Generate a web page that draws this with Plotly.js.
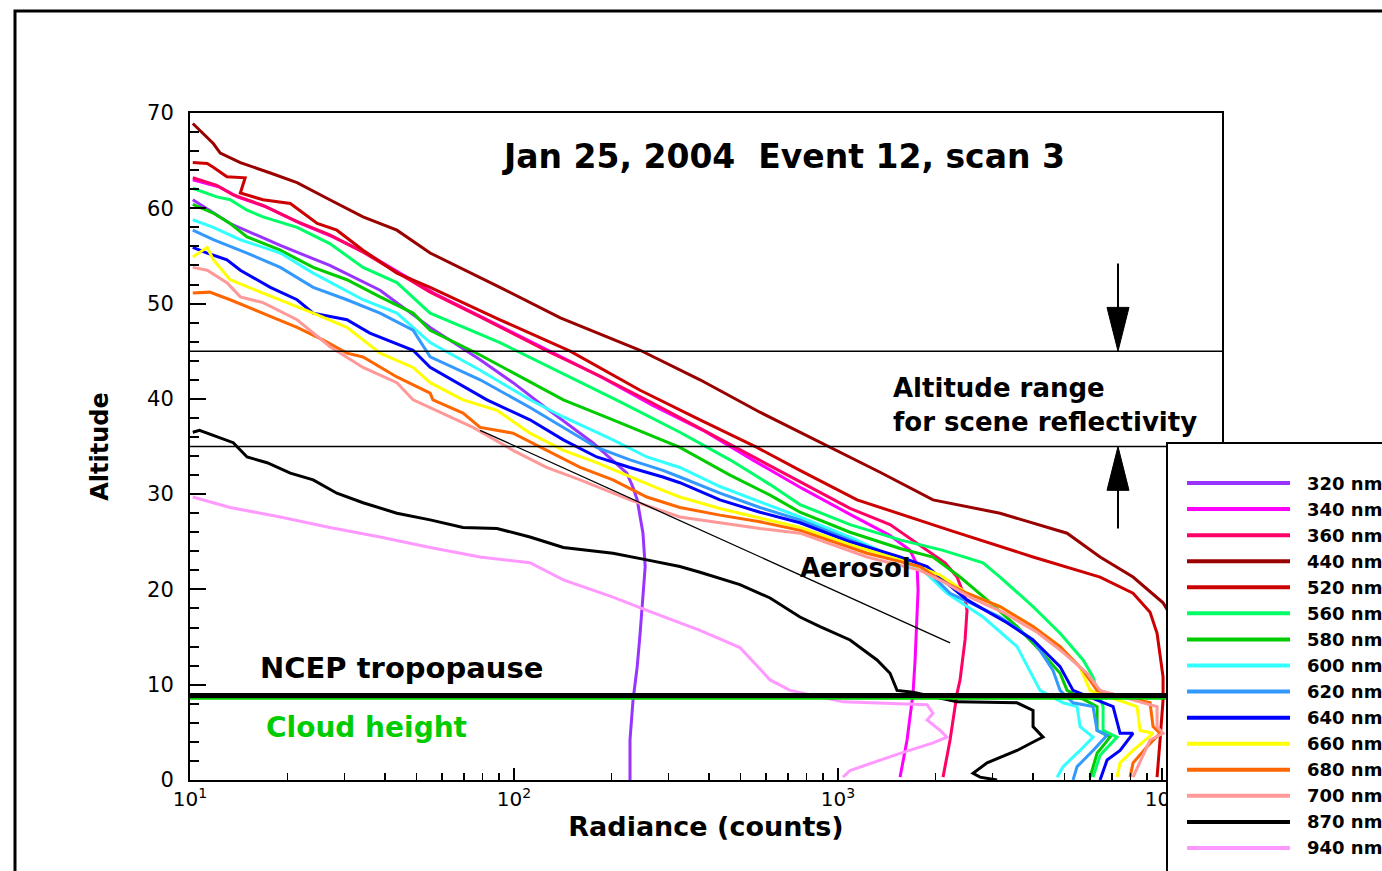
<!DOCTYPE html>
<html><head><meta charset="utf-8">
<script src="https://cdn.plot.ly/plotly-3.0.1.min.js"></script>
<style>html,body{margin:0;padding:0;background:#fff;overflow:hidden}#chart{width:1382px;height:871px}</style>
</head><body><div id="chart"></div>
<script>
const wavelengths = ['320 nm','340 nm','360 nm','440 nm','520 nm','560 nm','580 nm','600 nm','620 nm','640 nm','660 nm','680 nm','700 nm','870 nm','940 nm'];
const colors = ['#9933ff','#ff00ff','#ff0066','#990000','#cc0000','#00ff66','#00cc00','#33ffff','#3399ff','#0000ff','#ffff00','#ff6600','#ff9999','#000000','#ff99ff'];

const alt_320 = [60.9, 58.4, 56.1, 54.0, 51.4, 47.5, 44.1, 41.7, 39.0, 35.4, 32.2, 30.7, 29.4, 25.9, 22.4, 18.9, 15.4, 11.9, 8.4, 4.2, 0];
const rad_320 = [10.2, 13.3, 19.0, 27.0, 38.6, 55.1, 78.6, 99.3, 126, 175, 223, 233, 240, 250, 254, 250, 245, 240, 233, 228, 228];

const alt_340 = [63.0, 62.2, 61.2, 60.1, 58.4, 57.0, 55.3, 53.2, 51.1, 48.5, 45.1, 42.2, 39.3, 36.7, 33.6, 30.6, 27.8, 25.7, 24.1, 22.6, 19.9, 16.8, 12.6, 9.1, 4.2, 0.3];
const rad_340 = [10.2, 12.4, 14.0, 17.3, 22.0, 27.6, 35.0, 44.5, 56.5, 80.5, 128, 188, 268, 383, 545, 775, 1100, 1440, 1668, 1753, 1766, 1753, 1729, 1704, 1633, 1554];

const alt_360 = [63.2, 62.4, 61.4, 60.3, 58.6, 57.2, 55.4, 53.3, 51.2, 48.6, 45.1, 42.4, 39.7, 36.9, 34.1, 31.3, 28.5, 26.8, 24.1, 22.8, 21.3, 19.1, 17.8, 14.7, 10.5, 9.1, 4.2, 0.3];
const rad_360 = [10.2, 12.1, 13.6, 16.8, 21.4, 27.0, 34.2, 43.5, 55.1, 78.6, 125, 184, 263, 375, 535, 763, 1089, 1447, 1883, 2139, 2330, 2466, 2501, 2466, 2380, 2330, 2217, 2109];

const alt_440 = [68.9, 66.8, 65.8, 64.8, 63.7, 62.7, 60.9, 59.1, 57.7, 55.3, 51.7, 48.5, 45.1, 42.0, 38.6, 34.9, 32.3, 29.4, 28.0, 25.9, 23.4, 21.3, 18.6, 14.7, 8.4];
const rad_440 = [10.2, 11.8, 12.4, 14.3, 17.7, 21.4, 27.0, 34.2, 43.5, 55.1, 90.5, 139, 245, 375, 574, 945, 1348, 1964, 3162, 5092, 6437, 8137, 10072, 11770, 13100];

const alt_520 = [64.8, 64.7, 64.3, 63.3, 63.2, 61.6, 60.9, 60.5, 58.4, 57.7, 55.6, 53.2, 51.7, 48.3, 45.0, 40.9, 37.8, 34.9, 32.5, 29.4, 26.2, 23.4, 21.3, 19.6, 17.6, 15.4, 10.8, 8.4, 4.2, 0.3];
const rad_520 = [10.2, 11.3, 11.8, 13.0, 14.8, 14.3, 16.8, 20.4, 24.7, 28.4, 34.2, 43.5, 55.1, 90.5, 149, 245, 375, 562, 763, 1145, 2217, 3998, 6437, 8137, 9184, 9652, 10072, 10072, 9859, 9652];

const alt_560 = [62.1, 61.2, 60.9, 59.8, 59.1, 58.0, 56.3, 53.8, 52.2, 49.0, 45.9, 42.8, 39.7, 36.5, 33.6, 31.0, 28.9, 26.8, 25.2, 24.1, 22.8, 21.3, 18.2, 15.4, 12.6, 10.8, 9.4, 7.7, 5.2, 4.5, 2.6, 0.3];
const rad_560 = [10.2, 12.1, 13.3, 15.0, 16.8, 21.4, 27.0, 34.2, 43.5, 55.1, 90.5, 139, 212, 325, 464, 617, 763, 1089, 1554, 2109, 2803, 3162, 3998, 4845, 5706, 6124, 6302, 6576, 6576, 7263, 6437, 6124];

const alt_580 = [60.4, 59.5, 58.4, 57.0, 55.6, 53.8, 52.5, 50.7, 49.0, 47.2, 44.6, 39.9, 37.8, 34.9, 32.0, 29.9, 28.1, 26.0, 24.3, 23.4, 21.3, 18.9, 16.1, 13.6, 11.2, 9.4, 7.7, 5.2, 4.5, 2.8, 0.3];
const rad_580 = [10.2, 11.8, 13.3, 15.0, 19.0, 24.0, 30.5, 38.6, 48.8, 55.1, 78.6, 142, 202, 325, 464, 617, 763, 1089, 1554, 1964, 2380, 2884, 3568, 4202, 4845, 5092, 6302, 6302, 6912, 6302, 5995];

const alt_600 = [58.8, 58.0, 56.7, 55.3, 53.2, 50.4, 49.0, 45.9, 43.0, 39.9, 38.1, 35.7, 33.9, 32.8, 30.8, 29.2, 27.6, 25.5, 23.6, 22.0, 19.6, 17.1, 14.0, 10.8, 9.4, 8.1, 7.7, 5.6, 4.5, 3.1, 1.4, 0.3];
const rad_600 = [10.2, 11.8, 14.3, 19.0, 24.0, 34.2, 43.5, 55.1, 78.6, 112, 142, 202, 257, 325, 432, 574, 763, 1089, 1447, 1830, 2170, 2803, 3568, 3998, 4202, 4949, 5467, 5585, 6124, 5585, 4949, 4743];

const alt_620 = [57.7, 56.7, 55.3, 53.8, 51.7, 50.4, 49.0, 47.2, 44.4, 42.0, 39.1, 37.0, 34.9, 33.6, 32.5, 31.8, 30.1, 28.6, 27.3, 25.2, 23.4, 22.0, 19.6, 17.1, 14.7, 11.5, 9.4, 8.1, 7.7, 5.2, 4.7, 3.1, 1.4, 0];
const rad_620 = [10.2, 11.8, 15.0, 19.0, 24.0, 30.5, 38.6, 48.8, 55.1, 78.6, 112, 142, 180, 228, 288, 325, 432, 574, 763, 1089, 1499, 1883, 2217, 3162, 3998, 4608, 4845, 5313, 6124, 6302, 6766, 6124, 5467, 5313];

const alt_640 = [55.9, 55.3, 54.6, 53.5, 52.5, 51.7, 50.4, 49.0, 48.3, 46.9, 45.1, 43.3, 39.9, 37.8, 35.7, 33.9, 32.8, 31.8, 31.2, 29.4, 28.1, 27.0, 25.0, 23.4, 22.4, 18.9, 16.5, 14.7, 11.9, 9.4, 7.7, 4.9, 4.9, 3.1, 2.1, 0];
const rad_640 = [10.2, 11.3, 13.0, 14.3, 16.1, 17.7, 21.4, 24.0, 30.5, 35.9, 48.8, 55.1, 82.5, 112, 142, 180, 228, 288, 325, 432, 574, 763, 1089, 1554, 1883, 2501, 3323, 3998, 4845, 5313, 7062, 7421, 8137, 7421, 6766, 6437];

const alt_660 = [54.9, 55.9, 54.6, 52.5, 51.1, 50.4, 49.0, 47.5, 44.8, 43.3, 41.7, 39.9, 38.8, 36.4, 34.6, 33.3, 31.8, 30.4, 29.7, 28.5, 27.5, 26.5, 24.7, 23.1, 21.5, 19.6, 18.2, 16.1, 14.0, 11.8, 9.4, 7.7, 5.2, 4.9, 3.1, 1.8, 0.3];
const rad_660 = [10.2, 11.3, 11.8, 13.3, 16.8, 19.0, 24.0, 30.5, 38.6, 48.8, 55.1, 69.6, 88.6, 112, 142, 180, 228, 288, 325, 432, 574, 763, 1089, 1554, 2065, 2501, 3162, 3998, 4845, 5585, 5995, 8371, 8553, 9380, 8137, 7421, 7263];

const alt_680 = [51.1, 51.2, 50.4, 49.0, 47.5, 46.2, 44.8, 44.4, 42.3, 40.6, 39.9, 38.5, 37.0, 36.4, 34.6, 32.8, 31.5, 29.7, 28.6, 27.8, 27.1, 26.2, 23.8, 22.4, 21.0, 19.6, 18.2, 16.1, 14.0, 11.5, 9.4, 8.1, 5.6, 4.9, 3.5, 1.8, 0.3];
const rad_680 = [10.2, 11.5, 13.3, 16.8, 21.4, 25.7, 30.5, 34.2, 43.5, 55.1, 56.2, 69.6, 78.6, 99.3, 126, 160, 202, 257, 325, 432, 574, 763, 1229, 1791, 2065, 2501, 3162, 3998, 4845, 5706, 6302, 9184, 9380, 9859, 8988, 8137, 7965];

const alt_700 = [53.8, 53.5, 52.2, 50.7, 50.1, 48.3, 45.5, 43.3, 41.7, 39.9, 37.0, 34.6, 32.8, 31.5, 29.4, 27.6, 27.0, 26.4, 25.9, 23.4, 22.0, 20.7, 19.2, 17.6, 15.5, 13.4, 11.2, 9.4, 8.1, 7.7, 5.6, 4.9, 4.2, 1.8, 0.3];
const rad_700 = [10.2, 11.3, 13.0, 14.3, 16.8, 21.4, 27.0, 34.2, 43.5, 48.8, 74.7, 99.3, 126, 160, 228, 325, 432, 574, 763, 1229, 1791, 2139, 2555, 3230, 4113, 4949, 5870, 6437, 8739, 9652, 9652, 10072, 9184, 8553, 8137];

const alt_870 = [36.5, 36.7, 35.4, 33.9, 33.3, 32.2, 31.5, 30.1, 29.1, 28.0, 27.3, 26.5, 26.4, 25.5, 24.4, 23.8, 23.1, 22.4, 21.8, 20.5, 19.1, 17.1, 16.1, 14.7, 12.6, 11.2, 9.4, 9.2, 8.2, 8.1, 7.3, 5.6, 4.5, 4.2, 3.1, 1.8, 0.7, 0.3, 0];
const rad_870 = [10.2, 10.7, 13.6, 15.0, 17.3, 20.4, 24.0, 28.4, 34.2, 43.5, 55.1, 69.6, 88.6, 112, 142, 202, 257, 325, 375, 498, 617, 763, 880, 1089, 1319, 1447, 1521, 1704, 2330, 3568, 3998, 3998, 4292, 4113, 3568, 2884, 2610, 2744, 3096];

const alt_940 = [29.7, 28.6, 27.6, 26.5, 25.5, 24.4, 23.4, 22.8, 21.0, 19.2, 17.8, 16.5, 15.7, 13.9, 10.5, 9.4, 8.2, 7.9, 7.0, 6.3, 5.2, 4.5, 3.9, 2.8, 1.8, 1.0, 0.3];
const rad_940 = [10.2, 13.3, 19.0, 27.0, 38.6, 55.1, 78.6, 112, 142, 202, 257, 325, 375, 498, 617, 711, 1036, 1883, 1964, 1883, 2065, 2170, 1964, 1554, 1282, 1089, 1036];

const aerosolRad = [78.6, 2217];
const aerosolAlt = [36.7, 14.4];

const rangeTopAlt = 45;
const rangeBottomAlt = 35;
const tropopauseAlt = 8.87;
const cloudAlt = 8.55;

const xTickVals = [10, 100, 1000, 10000];
const xTickText = ['10<sup>1</sup>', '10<sup>2</sup>', '10<sup>3</sup>', '10<sup>4</sup>'];

const altSeries = [alt_320, alt_340, alt_360, alt_440, alt_520, alt_560, alt_580, alt_600, alt_620, alt_640, alt_660, alt_680, alt_700, alt_870, alt_940];
const radSeries = [rad_320, rad_340, rad_360, rad_440, rad_520, rad_560, rad_580, rad_600, rad_620, rad_640, rad_660, rad_680, rad_700, rad_870, rad_940];

const FONT = 'DejaVu Sans, Liberation Sans, Arial, sans-serif';

const traces = wavelengths.map((w, i) => ({
  type: 'scatter', mode: 'lines', name: w,
  x: radSeries[i], y: altSeries[i],
  line: {color: colors[i], width: 3},
  showlegend: false, hoverinfo: 'skip'
}));
traces.push({type: 'scatter', mode: 'lines', name: 'Aerosol', x: aerosolRad, y: aerosolAlt,
  line: {color: '#000', width: 1.3}, showlegend: false, hoverinfo: 'skip'});

// minor ticks for the log axis
const minorX = [];
for (let d = 10; d <= 10000; d *= 10) for (let k = 2; k <= 9; k++) minorX.push(k * d);

// helpers: pixel -> paper
const W = 1382, H = 871, ML = 190, MR = 160, MT = 113, MB = 91;
const PW = W - ML - MR, PH = H - MT - MB;
const fx = px => (px - ML) / PW;
const fy = py => (H - MB - py) / PH;

const shapes = [];
// outer frame
shapes.push({type: 'rect', xref: 'paper', yref: 'paper', x0: fx(15), x1: fx(1400), y0: fy(890), y1: fy(11),
  line: {color: '#000', width: 3}, fillcolor: 'rgba(0,0,0,0)', layer: 'below'});
// altitude range lines
shapes.push({type: 'line', xref: 'paper', yref: 'y', x0: 0, x1: 1, y0: rangeTopAlt, y1: rangeTopAlt, line: {color: '#000', width: 1.5}});
shapes.push({type: 'line', xref: 'paper', yref: 'y', x0: 0, x1: 1, y0: rangeBottomAlt, y1: rangeBottomAlt, line: {color: '#000', width: 1.5}});
// tropopause and cloud height
shapes.push({type: 'line', xref: 'paper', yref: 'y', x0: 0, x1: 1, y0: cloudAlt, y1: cloudAlt, line: {color: '#00cc00', width: 2.5}});
shapes.push({type: 'line', xref: 'paper', yref: 'y', x0: 0, x1: 1, y0: tropopauseAlt, y1: tropopauseAlt, line: {color: '#000', width: 5}});
// arrows
const ax = fx(1118), hw = 11 / PW;
shapes.push({type: 'line', xref: 'paper', yref: 'y', x0: ax, x1: ax, y0: 54.2, y1: 49.0, line: {color: '#000', width: 2}});
shapes.push({type: 'path', xref: 'paper', yref: 'y', path: `M${ax - hw},49.6 L${ax + hw},49.6 L${ax},${rangeTopAlt} Z`, fillcolor: '#000', line: {color: '#000', width: 1}});
shapes.push({type: 'line', xref: 'paper', yref: 'y', x0: ax, x1: ax, y0: 26.4, y1: 31.0, line: {color: '#000', width: 2}});
shapes.push({type: 'path', xref: 'paper', yref: 'y', path: `M${ax - hw},30.4 L${ax + hw},30.4 L${ax},${rangeBottomAlt} Z`, fillcolor: '#000', line: {color: '#000', width: 1}});
// legend box
shapes.push({type: 'rect', xref: 'paper', yref: 'paper', x0: fx(1167), x1: fx(1420), y0: fy(900), y1: fy(443),
  line: {color: '#000', width: 2}, fillcolor: '#fff'});

const annotations = [
  {xref: 'paper', yref: 'paper', x: fx(783), y: fy(157), text: '<b>Jan 25, 2004  Event 12, scan 3</b>', showarrow: false,
   font: {family: FONT, size: 33, color: '#000'}, xanchor: 'center', yanchor: 'middle'},
  {xref: 'paper', yref: 'paper', x: fx(891), y: fy(405), text: '<b>Altitude range<br>for scene reflectivity</b>', showarrow: false,
   align: 'left', font: {family: FONT, size: 26, color: '#000'}, xanchor: 'left', yanchor: 'middle'},
  {xref: 'paper', yref: 'paper', x: fx(258), y: fy(668), text: '<b>NCEP tropopause</b>', showarrow: false,
   font: {family: FONT, size: 29, color: '#000'}, xanchor: 'left', yanchor: 'middle'},
  {xref: 'paper', yref: 'paper', x: fx(264), y: fy(727), text: '<b>Cloud height</b>', showarrow: false,
   font: {family: FONT, size: 28, color: '#00cc00'}, xanchor: 'left', yanchor: 'middle'},
  {xref: 'paper', yref: 'paper', x: fx(798), y: fy(568), text: '<b>Aerosol</b>', showarrow: false,
   font: {family: FONT, size: 26, color: '#000'}, xanchor: 'left', yanchor: 'middle'}
];

// manual legend (cut off by the page edge as in the reference)
wavelengths.forEach((w, i) => {
  const py = 483 + i * 26.07;
  shapes.push({type: 'line', xref: 'paper', yref: 'paper', x0: fx(1187), x1: fx(1290), y0: fy(py), y1: fy(py),
    line: {color: colors[i], width: 4}});
  annotations.push({xref: 'paper', yref: 'paper', x: fx(1305), y: fy(py), text: '<b>' + w + '</b>', showarrow: false,
    font: {family: FONT, size: 18, color: '#000'}, xanchor: 'left', yanchor: 'middle'});
});

const layout = {
  width: W, height: H,
  margin: {l: ML, r: MR, t: MT, b: MB, autoexpand: false},
  paper_bgcolor: '#fff', plot_bgcolor: '#fff',
  showlegend: false,
  font: {family: FONT, color: '#000'},
  xaxis: {
    type: 'log', range: [1, 4.185], autorange: false,
    tickmode: 'array', tickvals: xTickVals, ticktext: xTickText,
    ticks: 'inside', ticklen: 12, tickwidth: 2, tickcolor: '#000',
    minor: {tickmode: 'array', tickvals: minorX, ticks: 'inside', ticklen: 7, tickwidth: 1.5, tickcolor: '#000', showgrid: false},
    showline: true, linecolor: '#000', linewidth: 2, mirror: true,
    showgrid: false, zeroline: false,
    tickfont: {family: FONT, size: 20, color: '#000'},
    title: {text: '<b>Radiance (counts)</b>', font: {family: FONT, size: 27, color: '#000'}, standoff: 6}
  },
  yaxis: {
    range: [0, 70], autorange: false,
    tickmode: 'linear', tick0: 0, dtick: 10,
    ticks: 'inside', ticklen: 16, tickwidth: 2, tickcolor: '#000',
    minor: {dtick: 2, ticks: 'inside', ticklen: 9, tickwidth: 2, tickcolor: '#000', showgrid: false},
    showline: true, linecolor: '#000', linewidth: 2, mirror: true,
    showgrid: false, zeroline: false,
    tickfont: {family: FONT, size: 21, color: '#000'},
    ticklabelstandoff: 10,
    title: {text: '<b>Altitude</b>', font: {family: FONT, size: 24, color: '#000'}, standoff: 32}
  },
  shapes: shapes,
  annotations: annotations
};

Plotly.newPlot('chart', traces, layout, {staticPlot: true, displayModeBar: false});
</script>
</body></html>
